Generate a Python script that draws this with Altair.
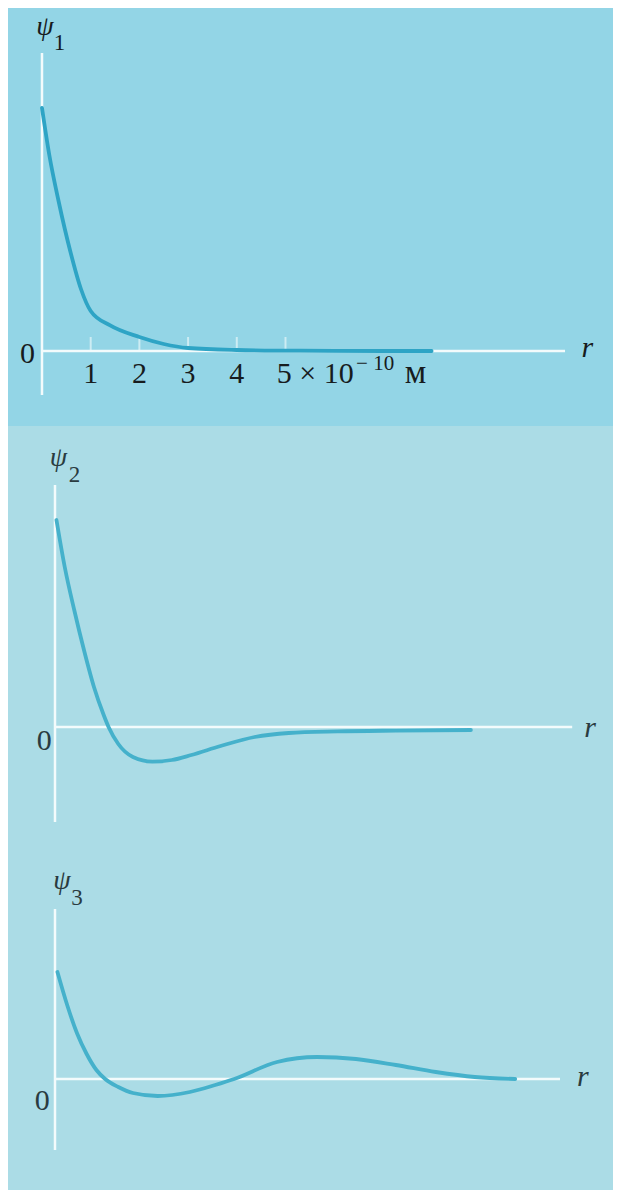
import altair as alt
import pandas as pd

# ---------------- data ----------------
# r in units of 1e-10 m, psi in arbitrary units
r1 = [0, 0.15, 0.34, 0.59, 0.8, 1.0, 1.4, 2.0, 2.5, 3.0, 4.0, 5.0, 6.0, 7.0, 8.0]
psi1 = [121.5, 98, 75, 49, 31, 20, 12.8, 7, 3.5, 1.5, 0.5, 0.2, 0.1, 0, 0]

r2 = [0.03, 0.2, 0.4, 0.6, 0.8, 1.0, 1.1, 1.3, 1.6, 2.0, 2.4, 2.8, 3.4, 4.1, 4.8, 5.8, 7.0, 8.54]
psi2 = [103.5, 80, 58, 38, 20, 6, 0, -8.5, -15, -17.3, -16.5, -14, -9.5, -5, -3, -2.2, -1.8, -1.5]

r3 = [0.05, 0.25, 0.45, 0.65, 0.85, 1.03, 1.3, 1.6, 2.11, 2.77, 3.29, 3.68, 4.56, 5.38, 6.18, 7.0, 7.82, 8.62, 9.45]
psi3 = [53.5, 37, 23, 12.5, 4.5, 0, -4, -7, -8.5, -6.5, -3, 0, 8.5, 11, 10, 7, 3.5, 1, 0]

tick_values = [1, 2, 3, 4, 5]
tick_labels = ["1", "2", "3", "4"]
unit_main = "5 × 10"
unit_exp = "− 10"
unit_name = "м"
psi_subs = ["1", "2", "3"]

# ---------------- style ----------------
W = 605
BG_TOP = "#93d5e6"
BG_LOW = "#abdce6"
CURVE_TOP = "#2ea4c5"
CURVE_LOW = "#45b1cb"
AXIS = "#f3fbfc"
INK = "#171c1e"
INK2 = "#2a3b40"
SERIF = "Liberation Serif, Times New Roman, serif"


def text_layer(df, size, color, xs, ys, italic=False, align="center"):
    return alt.Chart(df).mark_text(
        font=SERIF, fontSize=size, color=color, align=align,
        baseline="alphabetic", fontStyle="italic" if italic else "normal",
    ).encode(x=alt.X("x:Q", scale=xs, axis=None), y=alt.Y("y:Q", scale=ys, axis=None), text="t:N")


def panel(r, psi, xdom, ydom, height, yax, xax_end, bg, curve_col, txt_col,
          sub, zero_pos, r_pos, psi_pos, sub_pos, with_ticks=False):
    xs = alt.Scale(domain=xdom, nice=False, zero=False)
    ys = alt.Scale(domain=ydom, nice=False, zero=False)
    X = lambda f="x": alt.X(f"{f}:Q", scale=xs, axis=None)
    Y = lambda f="y": alt.Y(f"{f}:Q", scale=ys, axis=None)

    yaxis = alt.Chart(pd.DataFrame({"x": [0], "y": [yax[0]], "y2": [yax[1]]})).mark_rule(
        color=AXIS, strokeWidth=2.5).encode(x=X(), y=Y(), y2="y2:Q")
    xaxis = alt.Chart(pd.DataFrame({"x": [0], "x2": [xax_end], "y": [0]})).mark_rule(
        color=AXIS, strokeWidth=2.5).encode(x=X(), x2="x2:Q", y=Y())
    layers = [yaxis, xaxis]
    if with_ticks:
        ticks = alt.Chart(pd.DataFrame({"x": tick_values, "y": [0] * 5, "y2": [7] * 5})).mark_rule(
            color=AXIS, strokeWidth=2, opacity=0.6).encode(x=X(), y=Y(), y2="y2:Q")
        layers.append(ticks)
    curve = alt.Chart(pd.DataFrame({"x": r, "y": psi})).mark_line(
        color=curve_col, strokeWidth=3.8, interpolate="monotone", strokeCap="round"
    ).encode(x=X(), y=Y(), order="x:Q")
    layers.append(curve)
    layers.append(text_layer(pd.DataFrame({"x": [zero_pos[0]], "y": [zero_pos[1]], "t": ["0"]}),
                             30, txt_col, xs, ys))
    layers.append(text_layer(pd.DataFrame({"x": [r_pos[0]], "y": [r_pos[1]], "t": ["r"]}),
                             30, txt_col, xs, ys, italic=True))
    layers.append(text_layer(pd.DataFrame({"x": [psi_pos[0]], "y": [psi_pos[1]], "t": ["ψ"]}),
                             28, txt_col, xs, ys, italic=True))
    layers.append(text_layer(pd.DataFrame({"x": [sub_pos[0]], "y": [sub_pos[1]], "t": [sub]}),
                             23, txt_col, xs, ys))
    if with_ticks:
        layers.append(text_layer(pd.DataFrame({"x": tick_values[:4], "y": [-16] * 4, "t": tick_labels}),
                                 30, txt_col, xs, ys))
        layers.append(text_layer(pd.DataFrame({"x": [4.82], "y": [-16], "t": [unit_main]}),
                                 30, txt_col, xs, ys, align="left"))
        layers.append(text_layer(pd.DataFrame({"x": [6.45], "y": [-9.5], "t": [unit_exp]}),
                                 21, txt_col, xs, ys, align="left"))
        layers.append(text_layer(pd.DataFrame({"x": [7.45], "y": [-16], "t": [unit_name]}),
                                 34, txt_col, xs, ys, align="left"))
    return alt.layer(*layers).properties(
        width=W, height=height,
        view=alt.ViewBackground(fill=bg, strokeWidth=0),
    )


p1 = panel(r1, psi1, [-0.698, 11.725], [-37.5, 171.5], 418, (-22, 149), 10.74,
           BG_TOP, CURVE_TOP, INK, psi_subs[0],
           zero_pos=(-0.30, -6), r_pos=(11.2, -3), psi_pos=(0.06, 158), sub_pos=(0.36, 150.5),
           with_ticks=True)
p2 = panel(r2, psi2, [-0.965, 11.458], [-51.5, 150.5], 404, (-47.5, 121), 10.62,
           BG_LOW, CURVE_LOW, INK2, psi_subs[1],
           zero_pos=(-0.22, -11.5), r_pos=(10.99, -5), psi_pos=(0.07, 130.5), sub_pos=(0.40, 122.5))
p3 = panel(r3, psi3, [-0.965, 11.458], [-55.5, 124.5], 360, (-35.5, 85), 10.37,
           BG_LOW, CURVE_LOW, INK2, psi_subs[2],
           zero_pos=(-0.26, -15.5), r_pos=(10.84, -3.5), psi_pos=(0.14, 95), sub_pos=(0.45, 87))

chart = alt.vconcat(p1, p2, p3, spacing=0).resolve_scale(
    x="independent", y="independent"
).properties(padding=0, background=BG_LOW).configure_view(strokeWidth=0)

chart.save("out.html", embed_options={"renderer": "svg", "actions": False})
